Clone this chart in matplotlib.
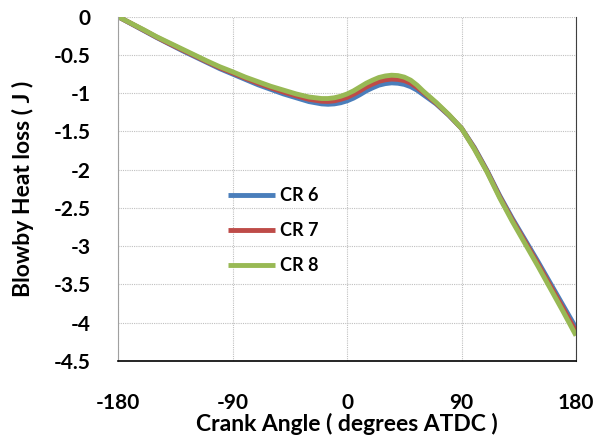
import matplotlib
matplotlib.use("Agg")
import matplotlib.pyplot as plt

plt.rcParams['font.family'] = ['Lato', 'DejaVu Sans']
plt.rcParams['axes.unicode_minus'] = False

# Crank angle (degrees ATDC), finer steps around the hump
angle = [-180, -170, -160, -150, -140, -130, -120, -110, -100, -90,
         -80, -70, -60, -50, -40, -30, -20, -15, -10, -5, 0, 5, 10, 15,
         20, 25, 30, 35, 40, 45, 50, 55, 60, 70, 80, 90, 100, 110,
         120, 130, 140, 150, 160, 170, 180]

# Blowby heat loss (J) for each compression ratio
cr6 = [0, -0.09, -0.18, -0.27, -0.355, -0.44, -0.52, -0.60, -0.68, -0.75,
       -0.82, -0.89, -0.95, -1.01, -1.06, -1.11, -1.14, -1.145, -1.14, -1.125, -1.10, -1.065, -1.02, -0.97,
       -0.93, -0.895, -0.875, -0.865, -0.87, -0.885, -0.915, -0.96, -1.02, -1.14, -1.29, -1.46, -1.71, -2.01,
       -2.34, -2.64, -2.92, -3.20, -3.49, -3.78, -4.07]
cr7 = [0, -0.087, -0.175, -0.265, -0.35, -0.43, -0.51, -0.59, -0.668, -0.735,
       -0.805, -0.87, -0.93, -0.985, -1.035, -1.08, -1.105, -1.108, -1.10, -1.08, -1.055, -1.015, -0.97, -0.92,
       -0.88, -0.845, -0.825, -0.815, -0.82, -0.835, -0.87, -0.925, -0.99, -1.13, -1.285, -1.46, -1.72, -2.02,
       -2.355, -2.66, -2.945, -3.23, -3.525, -3.82, -4.12]
cr8 = [0, -0.085, -0.17, -0.26, -0.34, -0.42, -0.50, -0.58, -0.655, -0.72,
       -0.79, -0.85, -0.91, -0.96, -1.01, -1.05, -1.07, -1.07, -1.06, -1.04, -1.01, -0.97, -0.92, -0.87,
       -0.83, -0.795, -0.775, -0.765, -0.77, -0.79, -0.83, -0.895, -0.975, -1.12, -1.28, -1.46, -1.73, -2.03,
       -2.37, -2.68, -2.97, -3.26, -3.56, -3.86, -4.17]

series = [("CR 6", cr6, "#4a7ebb"), ("CR 7", cr7, "#be4b48"), ("CR 8", cr8, "#98b954")]

fig = plt.figure(figsize=(6, 4.4), dpi=100)
ax = fig.add_axes([0.197, 0.18, 0.763, 0.782])

for name, vals, col in series:
    ax.plot(angle, vals, color=col, linewidth=3.5, label=name,
            solid_capstyle='butt', solid_joinstyle='round')

ax.set_xlim(-180, 180)
ax.set_ylim(-4.5, 0)
ax.set_xticks([-180, -90, 0, 90, 180])
ax.set_yticks([0, -0.5, -1, -1.5, -2, -2.5, -3, -3.5, -4, -4.5])
ax.set_yticklabels(["0", "-0.5", "-1", "-1.5", "-2", "-2.5", "-3", "-3.5", "-4", "-4.5"])

ax.grid(True, linestyle=(0, (1, 1)), color="#c0c0c0", linewidth=0.8)
ax.set_axisbelow(True)

ax.spines['top'].set_visible(False)
ax.spines['left'].set_color("#a0a0a0")
ax.spines['right'].set_color("#404040")
ax.spines['bottom'].set_color("black")
ax.spines['bottom'].set_linewidth(1.2)

ax.tick_params(axis='both', length=0, labelsize=15)
ax.tick_params(axis='x', pad=23)
ax.tick_params(axis='y', pad=20)
for lab in ax.get_xticklabels() + ax.get_yticklabels():
    lab.set_fontweight('bold')

ax.set_xlabel("Crank Angle ( degrees ATDC )", fontsize=16.5, fontweight='bold', labelpad=0)
ax.set_ylabel("Blowby Heat loss ( J )", fontsize=16.5, fontweight='bold', labelpad=14)

leg = ax.legend(loc='center left', bbox_to_anchor=(0.24, 0.378), frameon=False,
                prop={'size': 13, 'weight': 'bold'}, handlelength=2.6,
                handletextpad=0.3, labelspacing=1.0, borderpad=0, borderaxespad=0)

fig.savefig("out.png", dpi=100)
